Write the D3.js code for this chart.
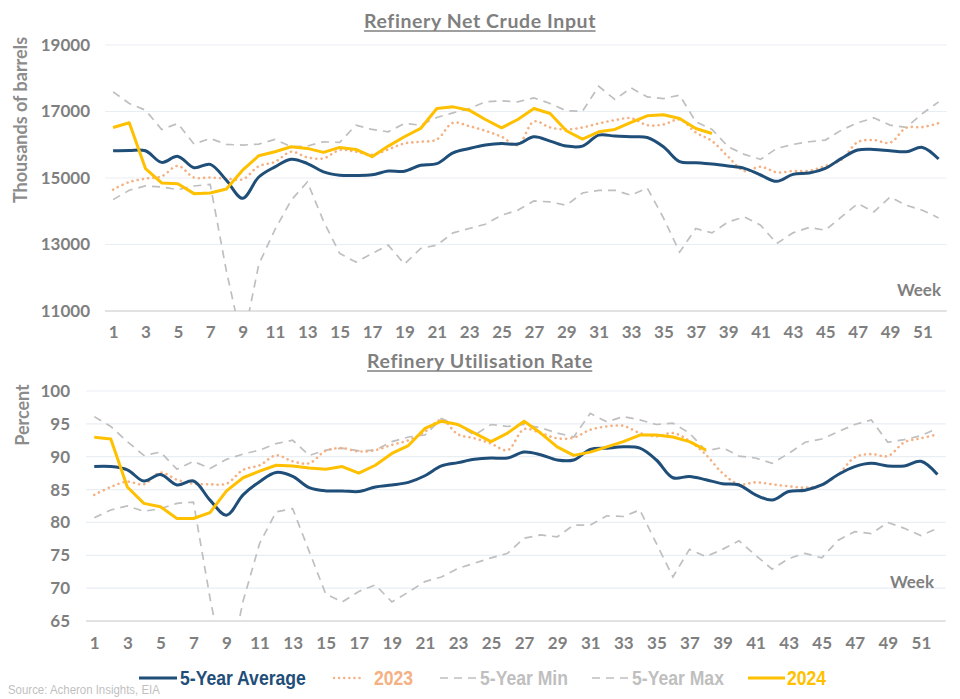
<!DOCTYPE html>
<html>
<head>
<meta charset="utf-8">
<script src="https://cdn.jsdelivr.net/npm/d3@7"></script>
<style>
  html, body { margin: 0; padding: 0; background: #ffffff; }
  svg { display: block; }
</style>
</head>
<body>
<svg id="chart" width="960" height="699"></svg>
<script>
// ---------------- DATA ----------------
const weeks = d3.range(1, 53);
const weekTicks = d3.range(1, 53, 2);

// Refinery Net Crude Input (thousands of barrels)
const inputAvg = [15820,15830,15820,15470,15650,15310,15410,14930,14390,15030,15335,15565,15435,15185,15085,15075,15095,15210,15205,15385,15430,15755,15885,15990,16040,16020,16240,16110,15960,15960,16290,16260,16240,16220,15940,15490,15460,15420,15360,15290,15090,14900,15110,15150,15290,15590,15840,15860,15820,15790,15920,15570];
const input2023 = [14650,14880,14980,15050,15365,15015,15015,14985,14960,15355,15485,15790,15620,15590,15840,15790,15700,15860,16040,16090,16160,16660,16560,16420,16240,15990,16700,16520,16460,16520,16640,16740,16800,16590,16610,16760,16370,16110,15640,15210,15340,15170,15210,15220,15360,15550,16080,16140,16060,16510,16530,16650];
const inputMin = [14350,14630,14760,14730,14650,14760,14810,12200,10000,12400,13450,14330,14880,13700,12730,12470,12730,12980,12410,12880,12980,13350,13480,13610,13880,14030,14310,14280,14180,14550,14630,14630,14480,14700,13800,12770,13480,13350,13680,13830,13580,13030,13350,13510,13430,13830,14230,13980,14430,14180,14030,13800];
const inputMax = [17590,17240,17040,16460,16640,16020,16190,16010,15990,16020,16160,15940,15960,16090,16070,16590,16460,16390,16640,16590,16820,16960,17090,17290,17320,17290,17410,17240,17020,17010,17760,17360,17710,17440,17390,17490,16690,16460,15940,15710,15560,15890,16010,16090,16140,16440,16660,16810,16590,16520,16940,17290];
const input2024 = [16520,16660,15285,14850,14830,14530,14550,14670,15235,15670,15790,15940,15890,15770,15920,15860,15640,15960,16240,16490,17090,17140,17040,16760,16510,16760,17090,16940,16420,16170,16390,16460,16670,16870,16900,16790,16490,16340];
const inputTicks = [11000, 13000, 15000, 17000, 19000];

// Refinery Utilisation Rate (percent)
const utilAvg = [88.5,88.5,88.0,86.3,87.3,85.7,86.3,83.4,81.1,84.2,86.2,87.6,87.0,85.3,84.8,84.8,84.7,85.4,85.7,86.1,87.1,88.6,89.1,89.6,89.8,89.8,90.7,90.3,89.5,89.5,91.1,91.3,91.5,91.3,89.5,86.8,87.0,86.5,85.9,85.7,84.2,83.4,84.7,84.9,85.7,87.3,88.5,89.0,88.6,88.6,89.3,87.3];
const util2023 = [84.2,85.4,86.2,85.8,87.6,86.5,85.9,85.8,85.9,88.0,88.7,90.2,89.3,89.0,90.9,91.3,90.8,91.0,91.8,92.5,93.8,95.6,93.4,92.8,92.0,91.0,94.2,93.6,92.8,92.9,94.1,94.6,94.7,93.6,93.1,93.6,92.4,90.3,87.5,85.8,86.1,85.8,85.5,85.3,85.7,87.3,89.9,90.4,90.1,92.2,92.8,93.4];
const utilMin = [80.7,81.9,82.5,81.7,82.1,82.9,83.1,68.5,56.0,68.0,76.8,81.6,82.1,75.6,69.1,67.9,69.5,70.5,67.9,69.4,71.0,71.7,73.0,73.8,74.6,75.3,77.6,78.1,77.8,79.6,79.6,81.0,80.9,81.9,76.8,71.7,75.9,74.8,75.9,77.2,75.0,72.9,74.5,75.3,74.6,77.3,78.6,78.3,80.0,79.1,78.0,79.1];
const utilMax = [96.1,94.6,92.3,90.2,90.7,88.1,89.3,88.2,89.6,90.4,91.0,92.0,92.5,90.2,91.0,91.3,90.9,91.0,92.3,93.0,93.3,95.8,94.8,93.3,94.9,94.6,94.9,94.4,93.6,93.0,96.6,95.3,96.1,95.6,94.9,95.1,93.6,90.9,91.4,90.1,89.8,89.0,90.5,92.2,92.7,93.8,94.9,95.6,92.2,92.6,93.2,94.3];
const util2024 = [92.95,92.7,85.4,82.9,82.4,80.6,80.6,81.5,84.8,86.8,87.8,88.7,88.6,88.3,88.1,88.5,87.5,88.7,90.5,91.7,94.3,95.4,94.9,93.6,92.3,93.6,95.4,93.6,91.5,90.2,90.7,91.5,92.3,93.3,93.3,93.0,92.3,91.0];
const utilTicks = [65, 70, 75, 80, 85, 90, 95, 100];

const seriesNames = ["5-Year Average", "2023", "5-Year Min", "5-Year Max", "2024"];

// ---------------- STYLE ----------------
const C = {
  avg: "#1f4e79",
  y2023: "#f4b183",
  gray: "#bfbfbf",
  y2024: "#ffc000",
  text: "#7f7f7f",
  grid: "#e9eef3",
  axis: "#d9d9d9"
};
const FONT = "Lato, 'Open Sans', 'DejaVu Sans', sans-serif";
const ARIAL = "'Liberation Sans', Arial, sans-serif";

const svg = d3.select("#chart");

function panel(cfg) {
  const g = svg.append("g");
  const x = d3.scalePoint().domain(weeks).range([cfg.left, cfg.right]).padding(0.5);
  const y = d3.scaleLinear().domain(cfg.domain).range([cfg.bottom, cfg.top]);

  // gridlines
  g.append("g").selectAll("line").data(cfg.ticks.slice(1)).join("line")
    .attr("x1", cfg.left).attr("x2", cfg.right)
    .attr("y1", d => y(d)).attr("y2", d => y(d))
    .attr("stroke", C.grid).attr("stroke-width", 1.2);
  // baseline
  g.append("line")
    .attr("x1", cfg.left).attr("x2", cfg.right)
    .attr("y1", y(cfg.domain[0])).attr("y2", y(cfg.domain[0]))
    .attr("stroke", C.axis).attr("stroke-width", 1.5);

  // y axis
  const ya = g.append("g").attr("transform", `translate(${cfg.left},0)`)
    .call(d3.axisLeft(y).tickValues(cfg.ticks).tickSize(0).tickPadding(cfg.yPad).tickFormat(d3.format("d")));
  ya.select(".domain").remove();
  ya.selectAll("text").attr("fill", C.text).style("font-family", FONT)
    .style("font-size", "17px").style("font-weight", "700");

  // x axis
  const xa = g.append("g").attr("transform", `translate(0,${cfg.bottom})`)
    .call(d3.axisBottom(x).tickValues(weekTicks).tickSize(0).tickPadding(cfg.xPad));
  xa.select(".domain").remove();
  xa.selectAll("text").attr("fill", C.text).style("font-family", FONT)
    .style("font-size", "17px").style("font-weight", "700");

  // clip
  const clipId = "clip" + cfg.id;
  svg.append("clipPath").attr("id", clipId).append("rect")
    .attr("x", cfg.left).attr("y", cfg.top - 10)
    .attr("width", cfg.right - cfg.left).attr("height", cfg.bottom - cfg.top + 10);

  const lines = g.append("g").attr("clip-path", `url(#${clipId})`);
  const lin = d3.line().x((d, i) => x(weeks[i])).y(d => y(d));
  const smooth = d3.line().x((d, i) => x(weeks[i])).y(d => y(d)).curve(d3.curveCatmullRom.alpha(0.5));

  lines.append("path").datum(cfg.min).attr("d", lin).attr("fill", "none")
    .attr("stroke", C.gray).attr("stroke-width", 1.7).attr("stroke-dasharray", "8,6");
  lines.append("path").datum(cfg.max).attr("d", lin).attr("fill", "none")
    .attr("stroke", C.gray).attr("stroke-width", 1.7).attr("stroke-dasharray", "8,6");
  lines.append("path").datum(cfg.y2023).attr("d", smooth).attr("fill", "none")
    .attr("stroke", C.y2023).attr("stroke-width", 2.6).attr("stroke-linecap", "round")
    .attr("stroke-dasharray", "0.1,5.2");
  lines.append("path").datum(cfg.avg).attr("d", smooth).attr("fill", "none")
    .attr("stroke", C.avg).attr("stroke-width", 3);
  lines.append("path").datum(cfg.y2024).attr("d", lin).attr("fill", "none")
    .attr("stroke", C.y2024).attr("stroke-width", 3).attr("stroke-linejoin", "round");

  // title with underline
  const t = svg.append("text").attr("x", 480).attr("y", cfg.titleY)
    .attr("text-anchor", "middle").attr("fill", C.text)
    .style("font-family", FONT).style("font-size", "19.5px").style("font-weight", "700")
    .style("letter-spacing", "0.6px")
    .text(cfg.title);
  const bb = t.node().getBBox();
  svg.append("line").attr("x1", bb.x).attr("x2", bb.x + bb.width - 0.6)
    .attr("y1", cfg.titleY + 3).attr("y2", cfg.titleY + 3)
    .attr("stroke", C.text).attr("stroke-width", 1.3);

  // y title
  svg.append("text")
    .attr("transform", `translate(${cfg.yTitleX},${cfg.yTitleY}) rotate(-90)`)
    .attr("text-anchor", "middle").attr("fill", "#8c8c8c")
    .style("font-family", FONT).style("font-size", "18px").style("font-weight", "700")
    .text(cfg.yTitle);

  // Week label
  svg.append("text").attr("x", cfg.weekX).attr("y", cfg.weekY)
    .attr("text-anchor", "end").attr("fill", C.text)
    .style("font-family", FONT).style("font-size", "17px").style("font-weight", "700")
    .text("Week");
}

panel({
  id: "a", left: 105, right: 946.7, top: 45, bottom: 311,
  domain: [11000, 19000], ticks: inputTicks, yPad: 15, xPad: 15,
  avg: inputAvg, y2023: input2023, min: inputMin, max: inputMax, y2024: input2024,
  title: "Refinery Net Crude Input", titleY: 28,
  yTitle: "Thousands of barrels", yTitleX: 27, yTitleY: 120,
  weekX: 941, weekY: 296
});

panel({
  id: "b", left: 86, right: 945.7, top: 391, bottom: 621,
  domain: [65, 100], ticks: utilTicks, yPad: 16, xPad: 16,
  avg: utilAvg, y2023: util2023, min: utilMin, max: utilMax, y2024: util2024,
  title: "Refinery Utilisation Rate", titleY: 368,
  yTitle: "Percent", yTitleX: 29, yTitleY: 415,
  weekX: 934, weekY: 588
});

// ---------------- LEGEND ----------------
const legendItems = [
  { name: seriesNames[0], color: C.avg, x1: 139, x2: 177, tx: 180, dash: null, w: 3, textColor: C.avg },
  { name: seriesNames[1], color: C.y2023, x1: 334, x2: 364, tx: 374, dash: "0.1,5", w: 2.4, textColor: C.y2023 },
  { name: seriesNames[2], color: C.gray, x1: 440, x2: 478, tx: 480, dash: "8,6", w: 1.7, textColor: C.gray },
  { name: seriesNames[3], color: C.gray, x1: 592, x2: 630, tx: 632, dash: "8,6", w: 1.7, textColor: C.gray },
  { name: seriesNames[4], color: C.y2024, x1: 748, x2: 785, tx: 787, dash: null, w: 3, textColor: C.y2024 }
];
const lg = svg.append("g");
legendItems.forEach(it => {
  lg.append("line").attr("x1", it.x1).attr("x2", it.x2).attr("y1", 678).attr("y2", 678)
    .attr("stroke", it.color).attr("stroke-width", it.w)
    .attr("stroke-linecap", it.dash && it.dash.startsWith("0.1") ? "round" : "butt")
    .attr("stroke-dasharray", it.dash);
  lg.append("text").attr("transform", `translate(${it.tx},685) scale(0.88,1)`)
    .attr("fill", it.textColor)
    .style("font-family", ARIAL).style("font-size", "20px").style("font-weight", "700")
    .text(it.name);
});

svg.append("text").attr("transform", "translate(8,694) scale(0.88,1)").attr("fill", "#bfbfbf")
  .style("font-family", ARIAL).style("font-size", "13px")
  .text("Source: Acheron Insights, EIA");
</script>
</body>
</html>
